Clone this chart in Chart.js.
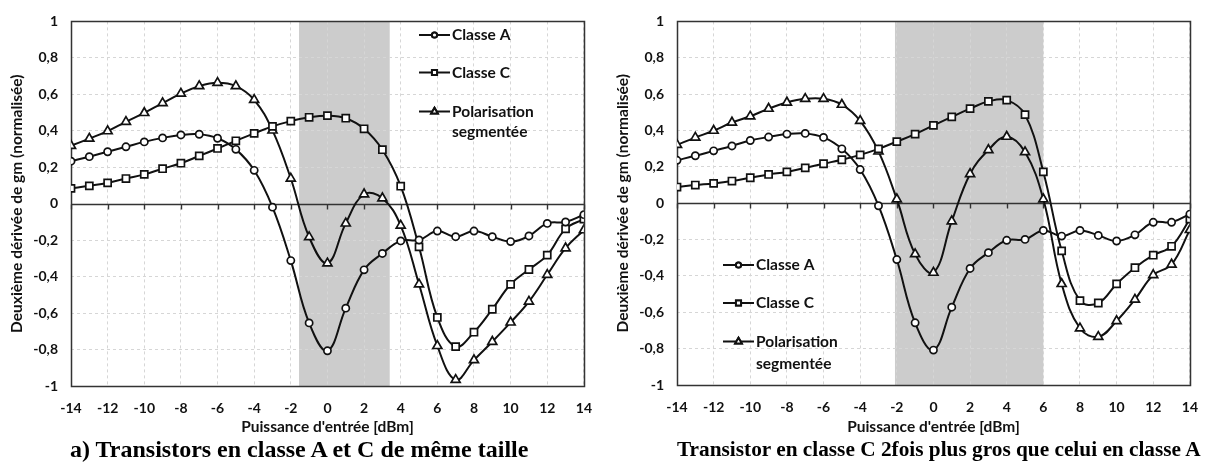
<!DOCTYPE html>
<html>
<head>
<meta charset="utf-8">
<script src="https://cdn.jsdelivr.net/npm/chart.js@4/dist/chart.umd.min.js"></script>
<style>
  body { margin: 0; background: #fff; width: 1212px; height: 464px; position: relative; overflow: hidden; }
  .panel { position: absolute; top: 0; width: 606px; height: 440px; }
  .caption {
    position: absolute; top: 434px;
    font-family: 'Liberation Serif', 'Times New Roman', serif;
    font-weight: bold; line-height: 30px; color: #000; white-space: nowrap;
  }
</style>
</head>
<body>
<div class="panel" style="left:0"><canvas id="chartA" width="606" height="440"></canvas></div>
<div class="panel" style="left:606px"><canvas id="chartB" width="606" height="440"></canvas></div>
<div class="caption" style="left:70px; font-size:24px">a) Transistors en classe A et C de même taille</div>
<div class="caption" style="left:677px; font-size:21.3px">Transistor en classe C 2fois plus gros que celui en classe A</div>

<script>
// Input power (dBm)
const inputPower = [-14, -13, -12, -11, -10, -9, -8, -7, -6, -5, -4, -3, -2, -1, 0,
  1, 2, 3, 4, 5, 6, 7, 8, 9, 10, 11, 12, 13, 14];

const seriesNames = ['Classe A', 'Classe C', 'Polarisation segmentée'];

// a) same size transistors
const classeA_a = [0.233, 0.258, 0.285, 0.312, 0.339, 0.361, 0.377, 0.381, 0.359, 0.298, 0.183, -0.019, -0.312, -0.654, -0.807,
  -0.573, -0.363, -0.273, -0.204, -0.199, -0.150, -0.181, -0.150, -0.181, -0.208, -0.177, -0.108, -0.100, -0.060];
const classeC_a = [0.084, 0.098, 0.114, 0.138, 0.161, 0.192, 0.222, 0.262, 0.303, 0.345, 0.386, 0.424, 0.453, 0.474, 0.483,
  0.469, 0.411, 0.296, 0.096, -0.237, -0.624, -0.784, -0.705, -0.579, -0.442, -0.361, -0.282, -0.138, -0.084];
const polar_a = [0.318, 0.357, 0.398, 0.449, 0.498, 0.552, 0.604, 0.645, 0.663, 0.645, 0.570, 0.402, 0.138, -0.183, -0.327,
  -0.108, 0.052, 0.030, -0.120, -0.442, -0.780, -0.966, -0.858, -0.757, -0.651, -0.537, -0.390, -0.244, -0.145];

// b) class C transistor twice as large
const classeA_b = [0.236, 0.261, 0.288, 0.315, 0.345, 0.364, 0.380, 0.384, 0.362, 0.299, 0.185, -0.014, -0.310, -0.658, -0.808,
  -0.572, -0.359, -0.272, -0.204, -0.199, -0.150, -0.181, -0.150, -0.177, -0.208, -0.174, -0.105, -0.105, -0.060];
const classeC_b = [0.089, 0.100, 0.109, 0.122, 0.140, 0.158, 0.172, 0.194, 0.217, 0.239, 0.266, 0.299, 0.339, 0.380, 0.428,
  0.475, 0.520, 0.560, 0.567, 0.487, 0.172, -0.262, -0.536, -0.549, -0.444, -0.355, -0.286, -0.237, -0.087];
const polar_b = [0.321, 0.361, 0.399, 0.444, 0.478, 0.520, 0.554, 0.574, 0.574, 0.542, 0.453, 0.285, 0.022, -0.280, -0.382,
  -0.099, 0.161, 0.293, 0.366, 0.281, 0.022, -0.444, -0.688, -0.735, -0.648, -0.530, -0.395, -0.337, -0.147];

// shaded power ranges [from, to]
const bandA = [-1.55, 3.4];
const bandB = [-2.1, 6.0];

Chart.defaults.font.family = 'Lato';
Chart.defaults.color = '#111';

const ink = '#111';
const markers = [
  { style: 'circle', r: 3.6, lr: 2.6 },
  { style: 'rect', r: 5, lr: 3.6 },
  { style: 'triangle', r: 5.2, lr: 3.8 }
];

function fmtTick(v) {
  const r = Math.round(v * 10) / 10;
  if (Number.isInteger(r)) return String(r);
  return r.toFixed(1).replace('.', ',');
}

// band behind the grid, zero line and frame over it, legend on top
const decor = {
  id: 'decor',
  beforeDraw(chart, args, opts) {
    const { ctx, chartArea: a, scales: { x } } = chart;
    ctx.save();
    ctx.fillStyle = '#cccccc';
    const x0 = x.getPixelForValue(opts.band[0]);
    const x1 = x.getPixelForValue(opts.band[1]);
    ctx.fillRect(x0, a.top, x1 - x0, a.bottom - a.top);
    ctx.restore();
  },
  beforeDatasetsDraw(chart) {
    const { ctx, chartArea: a, scales: { x, y } } = chart;
    ctx.save();
    ctx.strokeStyle = '#333';
    ctx.lineWidth = 1.4;
    const y0 = Math.round(y.getPixelForValue(0)) + 0.5;
    ctx.beginPath();
    ctx.moveTo(a.left, y0);
    ctx.lineTo(a.right, y0);
    x.ticks.forEach(t => {
      const px = Math.round(x.getPixelForValue(t.value)) + 0.5;
      ctx.moveTo(px, y0);
      ctx.lineTo(px, y0 + 5);
    });
    ctx.stroke();
    ctx.lineWidth = 1.5;
    ctx.strokeRect(Math.round(a.left) + 0.5, Math.round(a.top) + 0.5,
      Math.round(a.right - a.left), Math.round(a.bottom - a.top));
    ctx.restore();
  },
  afterDraw(chart, args, opts) {
    const ctx = chart.ctx;
    const L = opts.legend;
    ctx.save();
    ctx.font = 'bold 15.5px Lato';
    ctx.textBaseline = 'middle';
    seriesNames.forEach((name, i) => {
      const yy = L.rows[i];
      ctx.strokeStyle = ink;
      ctx.lineWidth = 2;
      ctx.beginPath();
      ctx.moveTo(L.x, yy);
      ctx.lineTo(L.x + 31, yy);
      ctx.stroke();
      Chart.helpers.drawPoint(ctx, {
        pointStyle: markers[i].style, radius: markers[i].lr, rotation: 0,
        borderWidth: 1.2
      }, L.x + 15.5, yy);
      ctx.fillStyle = '#fff';
      ctx.fill();
      ctx.stroke();
      ctx.fillStyle = ink;
      const words = name.split(' ');
      if (i === 2) {
        ctx.fillText(words[0], L.x + 33, yy);
        ctx.fillText(words[1], L.x + 33, yy + L.wrap);
      } else {
        ctx.fillText(name, L.x + 33, yy);
      }
    });
    ctx.restore();
  }
};

function makeChart(id, values, band, legend, yAxisWidth, pad) {
  const datasets = values.map((vals, i) => ({
    label: seriesNames[i],
    data: inputPower.map((p, k) => ({ x: p, y: vals[k] })),
    borderColor: ink,
    borderWidth: 2,
    tension: 0.4,
    pointStyle: markers[i].style,
    pointRadius: markers[i].r,
    pointBorderWidth: 1.7,
    pointBorderColor: ink,
    pointBackgroundColor: '#fff'
  }));

  return new Chart(document.getElementById(id), {
    type: 'line',
    data: { datasets },
    options: {
      responsive: false,
      devicePixelRatio: 1,
      animation: false,
      layout: { padding: { top: pad.top, right: pad.right, left: 0, bottom: 0 } },
      plugins: {
        legend: { display: false },
        tooltip: { enabled: false },
        decor: { band, legend }
      },
      scales: {
        x: {
          type: 'linear',
          min: -14, max: 14,
          afterFit: s => { s.height = pad.xAxis; },
          ticks: { stepSize: 2, padding: 14, font: { size: 14, weight: 'bold' }, maxRotation: 0 },
          grid: { color: '#d6d6d6', drawTicks: false, lineWidth: 1 },
          border: { display: false, dash: [3, 3] },
          title: {
            display: true, text: "Puissance d'entrée [dBm]",
            font: { size: 15.5, weight: 'bold' }, padding: { top: 0, bottom: 3.5 }
          }
        },
        y: {
          min: -1, max: 1,
          afterFit: s => { s.width = yAxisWidth; },
          ticks: { stepSize: 0.2, padding: 13, font: { size: 14, weight: 'bold' }, callback: fmtTick },
          grid: {
            color: c => (Math.abs(c.tick.value) < 1e-9 ? 'rgba(0,0,0,0)' : '#d6d6d6'),
            drawTicks: false, lineWidth: 1
          },
          border: { display: false, dash: [3, 3] },
          title: {
            display: true, text: 'Deuxième dérivée de gm (normalisée)',
            font: { size: 15.5, weight: 'bold' }, padding: { top: 8, bottom: 0 }
          }
        }
      }
    },
    plugins: [decor]
  });
}

makeChart('chartA', [classeA_a, classeC_a, polar_a], bandA,
  { x: 419, rows: [35, 72.5, 111.5], wrap: 20 }, 71, { top: 15, right: 15, xAxis: 54 });

makeChart('chartB', [classeA_b, classeC_b, polar_b], bandB,
  { x: 117, rows: [265, 303, 341.5], wrap: 22 }, 71, { top: 17, right: 16, xAxis: 55 });
</script>
</body>
</html>
